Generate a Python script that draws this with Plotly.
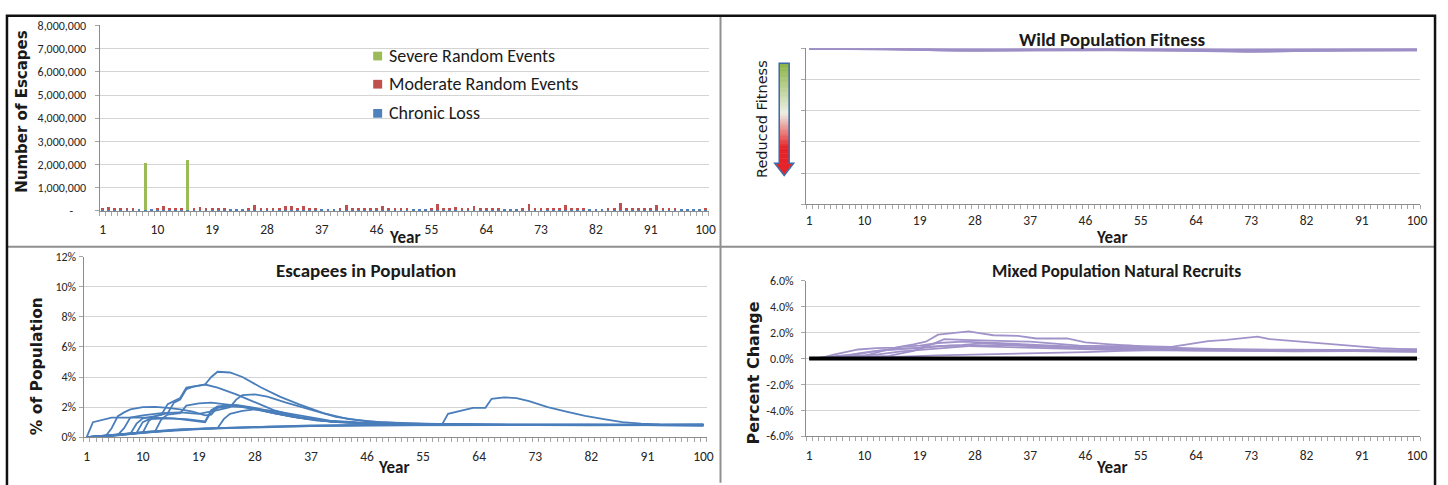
import plotly.graph_objects as go

W, H = 1448, 485


def fx(p):
    return p / W


def fy(p):
    return 1 - p / H


FONT = "Liberation Sans Narrow, Carlito, Roboto, sans-serif"
FONT_WIDE = "DejaVu Sans, Verdana, sans-serif"
TXT = "#262626"
AXIS = "#8c8c8c"
GRID = "#d4d4d4"

years = list(range(1, 101))
year_ticks = list(range(1, 101, 9))

# ---- Number of escapes per year (fish) ----
severe_years = [8, 15]
severe_escapes = [2050000, 2150000]

moderate_escapes = [
    90000, 150000, 70000, 90000, 90000, 80000, 0, 0, 0, 80000,
    200000, 90000, 80000, 70000, 0, 100000, 150000, 80000, 90000, 80000,
    80000, 0, 0, 0, 60000, 230000, 80000, 80000, 80000, 90000,
    170000, 160000, 80000, 180000, 90000, 80000, 0, 0, 0, 70000,
    210000, 80000, 80000, 80000, 90000, 90000, 170000, 90000, 80000, 80000,
    90000, 0, 0, 0, 90000, 250000, 80000, 90000, 150000, 80000,
    90000, 180000, 90000, 80000, 90000, 80000, 0, 0, 0, 90000,
    280000, 80000, 80000, 80000, 80000, 90000, 230000, 90000, 90000, 100000,
    0, 0, 0, 60000, 100000, 300000, 90000, 80000, 80000, 80000,
    90000, 200000, 90000, 90000, 110000, 0, 0, 0, 0, 100000,
]

chronic_escapes = [
    32000, 35000, 34000, 36000, 33000, 35000, 37000, 34000, 36000, 35000,
    33000, 34000, 36000, 35000, 34000, 37000, 35000, 33000, 36000, 34000,
    35000, 36000, 34000, 33000, 35000, 37000, 34000, 36000, 35000, 33000,
    34000, 36000, 35000, 34000, 37000, 35000, 33000, 36000, 34000, 35000,
    36000, 34000, 33000, 35000, 37000, 34000, 36000, 35000, 33000, 34000,
    36000, 35000, 34000, 37000, 35000, 33000, 36000, 34000, 35000, 36000,
    34000, 33000, 35000, 37000, 34000, 36000, 35000, 33000, 34000, 36000,
    35000, 34000, 37000, 35000, 33000, 36000, 34000, 35000, 36000, 34000,
    33000, 35000, 37000, 34000, 36000, 35000, 33000, 34000, 36000, 35000,
    34000, 37000, 35000, 33000, 36000, 34000, 35000, 36000, 34000, 33000,
]

escape_ticks = [0, 1000000, 2000000, 3000000, 4000000, 5000000, 6000000, 7000000, 8000000]
escape_ticktext = ["-\u2007\u2007", "1,000,000", "2,000,000", "3,000,000", "4,000,000",
                   "5,000,000", "6,000,000", "7,000,000", "8,000,000"]

# ---- Wild population fitness (relative, 1 = unaffected) ----
fitness_run_a = [(1, 1.0), (15, 0.998), (22, 0.99), (30, 0.99), (40, 0.992), (55, 0.993),
                 (65, 0.99), (72, 0.982), (78, 0.985), (90, 0.99), (100, 0.99)]
fitness_run_b = [(1, 1.0), (18, 0.995), (25, 0.988), (35, 0.99), (50, 0.995), (62, 0.99),
                 (70, 0.988), (80, 0.99), (100, 0.992)]
fitness_run_c = [(1, 1.0), (20, 0.997), (30, 0.993), (45, 0.996), (60, 0.994), (75, 0.99),
                 (90, 0.993), (100, 0.994)]
fitness_run_d = [(1, 1.0), (25, 0.996), (40, 0.994), (55, 0.997), (70, 0.994), (85, 0.996),
                 (100, 0.996)]
fitness_run_e = [(1, 1.0), (12, 0.999), (20, 0.992), (28, 0.986), (38, 0.99), (50, 0.992),
                 (65, 0.985), (73, 0.98), (82, 0.986), (100, 0.99)]
fitness_runs = [fitness_run_a, fitness_run_b, fitness_run_c, fitness_run_d, fitness_run_e]

# ---- Escapees as % of the wild population ----
escapee_run_a = [(1, 0), (2, 1.0), (5, 1.3), (8, 1.32), (12, 1.3), (15, 1.25), (18, 1.1), (20, 1.0),
                 (21, 1.7), (22, 1.95), (24, 2.05), (26, 2.0), (28, 1.85), (31, 1.6), (34, 1.35),
                 (38, 1.1), (42, 0.98), (46, 0.92), (52, 0.88), (60, 0.85), (70, 0.82), (80, 0.8),
                 (90, 0.82), (100, 0.82)]
escapee_run_b = [(1, 0), (4, 0.05), (5, 0.6), (6, 1.4), (7, 1.65), (8, 1.85), (10, 2.0), (12, 2.02),
                 (14, 1.95), (16, 1.85), (18, 1.7), (20, 1.45), (21, 1.5), (22, 2.0), (24, 2.1),
                 (26, 2.05), (28, 1.9), (31, 1.6), (35, 1.3), (40, 1.05), (46, 0.92), (55, 0.85),
                 (70, 0.8), (85, 0.82), (100, 0.8)]
escapee_run_c = [(1, 0), (8, 0.22), (9, 0.9), (10, 1.25), (12, 1.4), (14, 1.6), (15, 2.3), (16, 2.5),
                 (17, 3.2), (18, 3.35), (20, 3.5), (22, 3.3), (25, 2.85), (28, 2.3), (31, 1.8),
                 (35, 1.35), (40, 1.05), (46, 0.92), (55, 0.85), (65, 0.82), (80, 0.8), (100, 0.8)]
escapee_run_d = [(1, 0), (10, 0.3), (11, 1.1), (12, 1.4), (13, 1.5), (14, 2.2), (15, 2.4), (16, 2.6),
                 (17, 3.3), (19, 3.4), (20, 3.5), (21, 4.0), (22, 4.35), (24, 4.3), (26, 4.0),
                 (29, 3.3), (32, 2.7), (35, 2.2), (39, 1.6), (43, 1.2), (48, 1.0), (55, 0.9),
                 (65, 0.83), (80, 0.8), (100, 0.8)]
escapee_run_e = [(1, 0), (12, 0.4), (13, 1.2), (14, 1.5), (16, 1.6), (17, 2.1), (19, 2.25), (21, 2.3),
                 (23, 2.2), (25, 2.1), (28, 1.9), (31, 1.6), (35, 1.3), (40, 1.05), (46, 0.92),
                 (55, 0.86), (70, 0.82), (100, 0.82)]
escapee_run_f = [(1, 0), (9, 0.28), (10, 1.0), (11, 1.2), (14, 1.25), (17, 1.2), (20, 1.05),
                 (21, 1.8), (22, 2.05), (25, 2.15), (28, 1.95), (32, 1.6), (36, 1.25), (41, 1.0),
                 (48, 0.9), (60, 0.83), (100, 0.8)]
escapee_run_g = [(1, 0), (8, 0.2), (16, 0.5), (21, 0.58), (22, 0.6), (23, 1.2), (24, 1.55),
                 (26, 1.75), (28, 1.85), (31, 1.75), (35, 1.45), (40, 1.1), (46, 0.95), (55, 0.85),
                 (70, 0.82), (100, 0.78)]
escapee_run_h = [(1, 0), (6, 0.15), (7, 0.6), (8, 1.3), (10, 1.45), (13, 1.6), (16, 1.65),
                 (19, 1.55), (22, 1.8), (24, 2.0), (25, 2.5), (26, 2.8), (28, 2.85), (30, 2.7),
                 (33, 2.3), (37, 1.8), (41, 1.35), (46, 1.05), (52, 0.92), (60, 0.85), (100, 0.82)]
escapee_run_i = [(1, 0), (5, 0.1), (10, 0.3), (16, 0.5), (22, 0.6), (30, 0.7), (40, 0.76), (50, 0.8),
                 (58, 0.82), (59, 1.55), (61, 1.75), (63, 1.95), (65, 1.95), (66, 2.55), (68, 2.65),
                 (70, 2.6), (72, 2.4), (75, 2.0), (78, 1.7), (81, 1.42), (84, 1.2), (87, 1.0),
                 (90, 0.9), (93, 0.85), (100, 0.83)]
escapee_run_j = [(1, 0), (5, 0.08), (10, 0.3), (15, 0.45), (20, 0.55), (25, 0.62), (30, 0.68),
                 (37, 0.73), (46, 0.78), (55, 0.8), (64, 0.78), (73, 0.8), (82, 0.78), (91, 0.8),
                 (100, 0.76)]
escapee_run_k = [(1, 0), (5, 0.12), (10, 0.33), (15, 0.5), (20, 0.58), (25, 0.65), (30, 0.72),
                 (37, 0.78), (46, 0.82), (55, 0.84), (64, 0.82), (73, 0.83), (82, 0.85), (91, 0.84),
                 (100, 0.86)]
escapee_runs = [escapee_run_a, escapee_run_b, escapee_run_c, escapee_run_d, escapee_run_e,
                escapee_run_f, escapee_run_g, escapee_run_h, escapee_run_i, escapee_run_j,
                escapee_run_k]

# ---- Change in natural recruits of the mixed population (%) ----
recruit_run_a = [(1, 0), (3, 0.05), (5, 0.3), (7, 0.5), (9, 0.7), (12, 0.8), (15, 0.85), (18, 1.1),
                 (20, 1.3), (22, 1.85), (25, 2.0), (27, 2.1), (29, 1.95), (31, 1.8), (35, 1.75),
                 (38, 1.55), (43, 1.55), (46, 1.25), (50, 1.1), (55, 0.95), (60, 0.9), (63, 1.1),
                 (66, 1.35), (69, 1.45), (72, 1.6), (74, 1.7), (76, 1.5), (80, 1.35), (84, 1.2),
                 (88, 1.05), (91, 0.9), (94, 0.8), (97, 0.75), (100, 0.72)]
recruit_run_b = [(1, 0), (6, 0.1), (9, 0.4), (12, 0.6), (15, 0.7), (19, 0.85), (21, 1.1), (23, 1.5),
                 (26, 1.45), (29, 1.4), (33, 1.35), (37, 1.3), (41, 1.15), (45, 1.0), (50, 0.95),
                 (55, 0.9), (60, 0.8), (70, 0.7), (80, 0.68), (90, 0.65), (100, 0.62)]
recruit_run_c = [(1, 0), (10, 0.2), (13, 0.6), (16, 0.9), (19, 1.0), (22, 1.2), (26, 1.3), (30, 1.25),
                 (34, 1.15), (38, 1.05), (42, 0.95), (48, 0.85), (55, 0.8), (62, 0.75), (72, 0.7),
                 (85, 0.62), (100, 0.58)]
recruit_run_d = [(1, 0), (12, 0.3), (16, 0.55), (20, 0.7), (24, 0.85), (28, 1.0), (32, 1.05),
                 (36, 0.95), (40, 0.9), (46, 0.8), (52, 0.75), (60, 0.7), (70, 0.65), (80, 0.62),
                 (92, 0.6), (100, 0.55)]
recruit_run_e = [(1, 0), (8, 0.05), (16, 0.15), (22, 0.25), (28, 0.3), (34, 0.38), (40, 0.42),
                 (46, 0.5), (52, 0.6), (58, 0.65), (64, 0.62), (72, 0.6), (82, 0.58), (92, 0.55),
                 (100, 0.55)]
recruit_run_f = [(1, 0), (14, 0.2), (18, 0.6), (20, 0.9), (24, 1.0), (28, 0.95), (33, 0.9), (38, 0.8),
                 (44, 0.72), (50, 0.68), (58, 0.65), (68, 0.6), (80, 0.55), (90, 0.58), (100, 0.52)]
recruit_run_g = [(1, 0), (9, 0.35), (12, 0.6), (15, 0.75), (19, 0.8), (22, 0.95), (26, 1.05),
                 (30, 1.2), (34, 1.1), (38, 1.0), (42, 0.9), (47, 0.85), (53, 1.0), (57, 0.9),
                 (62, 0.75), (70, 0.68), (80, 0.65), (90, 0.62), (100, 0.6)]
recruit_runs = [recruit_run_a, recruit_run_b, recruit_run_c, recruit_run_d, recruit_run_e,
                recruit_run_f, recruit_run_g]
recruit_baseline = [0.0] * len(years)

recruit_ticks = [-6, -4, -2, 0, 2, 4, 6]
recruit_ticktext = ["-6.0%", "-4.0%", "-2.0%", "0.0%", "2.0%", "4.0%", "6.0%"]

fig = go.Figure()

# top-left: escapes (stacked columns)
fig.add_trace(go.Bar(x=years, y=chronic_escapes, name="Chronic Loss",
                     marker=dict(color="#4F81BD", line=dict(width=0)), xaxis="x", yaxis="y"))
fig.add_trace(go.Bar(x=years, y=moderate_escapes, name="Moderate Random Events",
                     marker=dict(color="#C0504D", line=dict(width=0)), xaxis="x", yaxis="y"))
fig.add_trace(go.Bar(x=severe_years, y=severe_escapes, name="Severe Random Events",
                     marker=dict(color="#9BBB59", line=dict(width=0)), xaxis="x", yaxis="y"))

# top-right: fitness
for run in fitness_runs:
    fig.add_trace(go.Scatter(x=[p[0] for p in run], y=[p[1] for p in run], mode="lines",
                             line=dict(color="#9D8FC6", width=2.4), xaxis="x2", yaxis="y2"))

# bottom-left: escapees in population
for run in escapee_runs:
    fig.add_trace(go.Scatter(x=[p[0] for p in run], y=[p[1] for p in run], mode="lines",
                             line=dict(color="#4A7EBB", width=1.8), xaxis="x3", yaxis="y3"))

# bottom-right: natural recruits
for run in recruit_runs:
    fig.add_trace(go.Scatter(x=[p[0] for p in run], y=[p[1] for p in run], mode="lines",
                             line=dict(color="#A193C9", width=1.8), xaxis="x4", yaxis="y4"))
fig.add_trace(go.Scatter(x=years, y=recruit_baseline, mode="lines",
                         line=dict(color="#000000", width=4), xaxis="x4", yaxis="y4"))


def year_axis(left, right, standoff):
    return dict(
        domain=[fx(left), fx(right)], range=[0.5, 100.5], tickmode="array",
        tickvals=year_ticks, ticktext=[str(v) for v in year_ticks], ticks="",
        showgrid=False, zeroline=False, showline=True, linecolor=AXIS, linewidth=1,
        tickfont=dict(family=FONT, size=13.5, color=TXT), ticklabelstandoff=standoff,
        minor=dict(ticks="outside", ticklen=4, tickcolor="#a6a6a6", tickwidth=1,
                   tickmode="linear", tick0=0.5, dtick=1, showgrid=False),
        fixedrange=True,
    )


def value_axis(top, bottom, **kw):
    base = dict(
        domain=[fy(bottom), fy(top)], showgrid=True, gridcolor=GRID, gridwidth=1,
        zeroline=False, showline=True, linecolor=AXIS, linewidth=1, ticks="outside",
        ticklen=4, tickcolor="#a6a6a6", tickfont=dict(family=FONT, size=12, color=TXT),
        fixedrange=True,
    )
    base.update(kw)
    return base


fig.update_layout(
    width=W, height=H, margin=dict(l=0, r=0, t=0, b=0),
    paper_bgcolor="white", plot_bgcolor="white", showlegend=False,
    barmode="stack", bargap=0.55,
    xaxis=year_axis(100, 712, 6),
    yaxis=value_axis(19, 210, range=[0, 8000000], tickmode="array", tickvals=escape_ticks,
                     ticktext=escape_ticktext, ticklabelstandoff=6),
    xaxis2=dict(year_axis(810, 1427, 4), anchor="y2"),
    yaxis2=value_axis(42.7, 203, range=[0, 1], dtick=0.2, showticklabels=False, anchor="x2"),
    xaxis3=dict(year_axis(84, 710, 7), anchor="y3"),
    yaxis3=value_axis(257, 443, range=[0, 12], dtick=2, ticksuffix="%", anchor="x3"),
    xaxis4=dict(year_axis(810, 1427, 7), anchor="y4"),
    yaxis4=value_axis(282, 442, range=[-6, 6], tickmode="array", tickvals=recruit_ticks,
                      ticktext=recruit_ticktext, anchor="x4", ticklabelstandoff=5),
)


def label(text, x, y, size, bold=False, family=FONT, angle=0, xanchor="center"):
    fig.add_annotation(
        text=f"<b>{text}</b>" if bold else text, x=fx(x), y=fy(y), xref="paper", yref="paper",
        showarrow=False, textangle=angle, xanchor=xanchor, yanchor="middle",
        font=dict(family=family, size=size, color="#1a1a1a"),
    )


# axis titles and panel titles
label("Number of Escapes", 22, 107, 15, bold=True, family=FONT_WIDE, angle=-90)
label("Year", 406, 237, 17, bold=True)
label("Wild Population Fitness", 1117, 33, 19, bold=True)
label("Reduced Fitness", 765, 115, 14.5, family=FONT_WIDE, angle=-90)
label("Year", 1117, 237, 17, bold=True)
label("Escapees in Population", 368, 271, 19, bold=True)
label("% of Population", 38, 370, 15.5, bold=True, family=FONT_WIDE, angle=-90)
label("Year", 395, 474, 17, bold=True)
label("Mixed Population Natural Recruits", 1122, 272, 17.5, bold=True)
label("Percent Change", 757, 377, 16, bold=True, family=FONT_WIDE, angle=-90)
label("Year", 1117, 474, 17, bold=True)

# legend of the escapes panel
legend_items = [("Severe Random Events", "#9BBB59", 50),
                ("Moderate Random Events", "#C0504D", 79),
                ("Chronic Loss", "#4F81BD", 109)]
for text, color, yc in legend_items:
    fig.add_shape(type="rect", xref="paper", yref="paper", x0=fx(375), x1=fx(384),
                  y0=fy(yc + 5), y1=fy(yc - 4), fillcolor=color, line=dict(width=0))
    label(text, 389, yc, 18, xanchor="left")

# gradient arrow beside the fitness panel
top_c = (141, 180, 72)
mid_c = (236, 238, 228)
bot_c = (230, 35, 40)
shaft_top, shaft_bot = 58.0, 161.0
n_slices = 40
for i in range(n_slices):
    t = i / (n_slices - 1)
    if t < 0.5:
        k = t / 0.5
        c = [round(top_c[j] + (mid_c[j] - top_c[j]) * k) for j in range(3)]
    else:
        k = min(1.0, (t - 0.5) / 0.35)
        c = [round(mid_c[j] + (bot_c[j] - mid_c[j]) * k) for j in range(3)]
    y0 = shaft_top + (shaft_bot - shaft_top) * i / n_slices
    y1 = shaft_top + (shaft_bot - shaft_top) * (i + 1) / n_slices + 0.5
    fig.add_shape(type="rect", xref="paper", yref="paper", x0=fx(783), x1=fx(793),
                  y0=fy(y1), y1=fy(y0), fillcolor=f"rgb({c[0]},{c[1]},{c[2]})",
                  line=dict(width=0), layer="above")


def ppath(points):
    return "M " + " L ".join(f"{fx(a):.5f},{fy(b):.5f}" for a, b in points) + " Z"


fig.add_shape(type="path", xref="paper", yref="paper",
              path=ppath([(779, 161), (797, 161), (788, 173)]),
              fillcolor="rgb(230,35,40)", line=dict(width=0))
fig.add_shape(type="path", xref="paper", yref="paper",
              path=ppath([(783, 58), (793, 58), (793, 161), (797.5, 161), (788, 173.5),
                          (778.5, 161), (783, 161)]),
              fillcolor="rgba(0,0,0,0)", line=dict(color="#3b6aa6", width=1.5))

# outer frame and panel dividers
fig.add_shape(type="line", xref="paper", yref="paper", x0=fx(724), x1=fx(724),
              y0=fy(9), y1=fy(H + 5), line=dict(color="#8f8f8f", width=2))
fig.add_shape(type="line", xref="paper", yref="paper", x0=fx(7), x1=fx(1442),
              y0=fy(247), y1=fy(247), line=dict(color="#8f8f8f", width=2))
fig.add_shape(type="rect", xref="paper", yref="paper", x0=fx(7), x1=fx(1442),
              y0=fy(H + 10), y1=fy(9), line=dict(color="#111111", width=2.5),
              fillcolor="rgba(0,0,0,0)")

fig.write_html("out.html", config={"displayModeBar": False})
